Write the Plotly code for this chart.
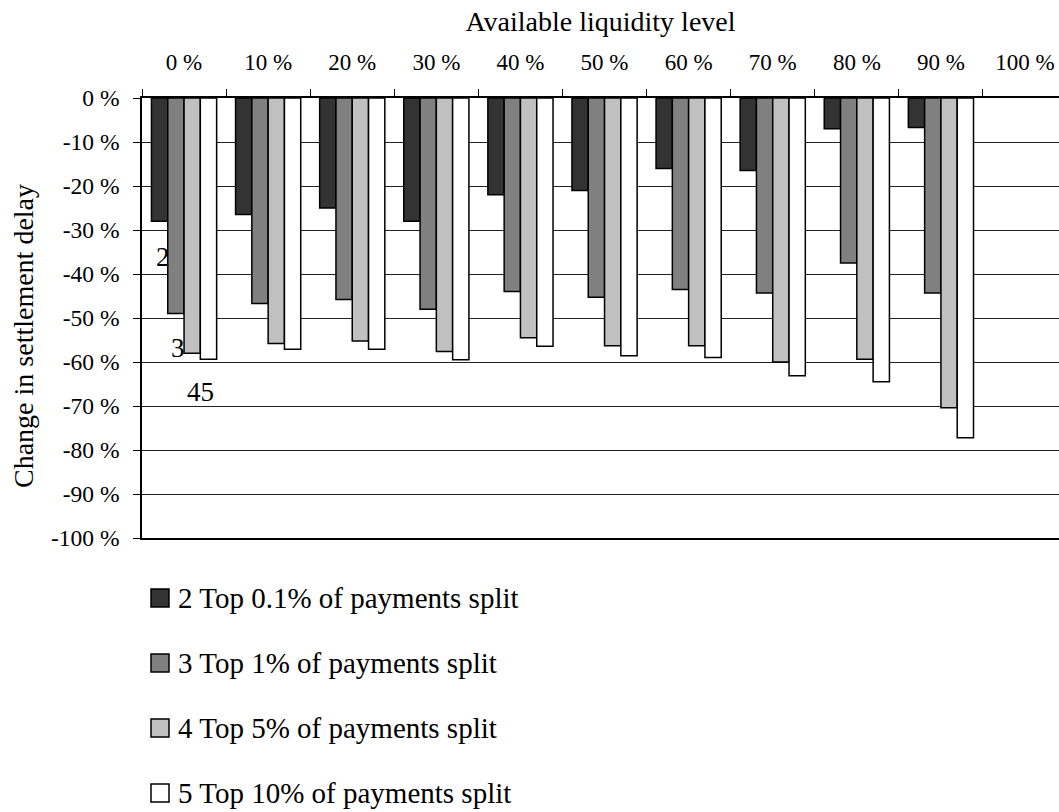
import plotly.graph_objects as go

# ---- data ----
categories = ["0 %", "10 %", "20 %", "30 %", "40 %", "50 %", "60 %", "70 %", "80 %", "90 %", "100 %"]
data_categories = categories[:10]

series_names = [
    "2 Top 0.1% of payments split",
    "3 Top 1% of payments split",
    "4 Top 5% of payments split",
    "5 Top 10% of payments split",
]
top_0_1 = [-28, -26.5, -25, -28, -22, -21, -16, -16.5, -7, -6.7]
top_1 = [-49, -46.7, -45.8, -48, -44, -45.3, -43.5, -44.3, -37.5, -44.3]
top_5 = [-58, -55.8, -55.2, -57.6, -54.5, -56.3, -56.3, -60, -59.4, -70.4]
top_10 = [-59.4, -57.1, -57.1, -59.5, -56.4, -58.6, -59, -63.1, -64.5, -77.2]
series_values = [top_0_1, top_1, top_5, top_10]
series_colors = ["#333333", "#808080", "#C0C0C0", "#FFFFFF"]

y_ticks = list(range(-100, 1, 10))
y_ticktext = [f"{v} %" for v in y_ticks]

stray_labels = ["2", "3", "45"]
stray_x = [-0.25, -0.07, 0.19]
stray_y = [-36.1, -56.8, -66.8]

FONT = "Liberation Serif"
W, H = 1059, 812
ML, MR, MT, MB = 142, 0, 98, 274
PW, PH = W - ML - MR, H - MT - MB


def px_to_paper_x(px):
    return (px - ML) / PW


def px_to_paper_y(py):
    return (H - MB - py) / PH


fig = go.Figure()
for name, vals, col in zip(series_names, series_values, series_colors):
    fig.add_trace(go.Bar(
        x=data_categories, y=vals, name=name,
        marker=dict(color=col, line=dict(color="black", width=1.5)),
        showlegend=False,
    ))

for t, xx, yy in zip(stray_labels, stray_x, stray_y):
    fig.add_annotation(x=xx, y=yy, xref="x", yref="y", text=t, showarrow=False,
                       font=dict(family=FONT, size=27, color="black"),
                       xanchor="center", yanchor="middle")

# legend (drawn as a vertical key below the plot)
leg_top_center = 598
leg_step = 65
for i, (name, col) in enumerate(zip(series_names, series_colors)):
    cy = leg_top_center + i * leg_step
    fig.add_shape(type="rect", xref="paper", yref="paper",
                  x0=px_to_paper_x(151), x1=px_to_paper_x(169),
                  y0=px_to_paper_y(cy - 9), y1=px_to_paper_y(cy + 9),
                  fillcolor=col, line=dict(color="black", width=1.5))
    fig.add_annotation(x=px_to_paper_x(176), y=px_to_paper_y(cy), xref="paper", yref="paper",
                       text=name, showarrow=False, xanchor="left", yanchor="middle",
                       font=dict(family=FONT, size=29, color="black"))

# y-axis title
fig.add_annotation(x=px_to_paper_x(23), y=px_to_paper_y(336), xref="paper", yref="paper",
                   text="Change in settlement delay", textangle=-90, showarrow=False,
                   xanchor="center", yanchor="middle",
                   font=dict(family=FONT, size=28, color="black"))

fig.update_layout(
    width=W, height=H,
    paper_bgcolor="white", plot_bgcolor="white",
    margin=dict(l=ML, r=MR, t=MT, b=MB, autoexpand=False),
    barmode="group", bargap=0.225, bargroupgap=0,
    font=dict(family=FONT, size=23, color="black"),
    showlegend=False,
    xaxis=dict(
        type="category", categoryorder="array", categoryarray=categories,
        side="top", range=[-0.5, 10.404], tickson="boundaries",
        ticks="outside", ticklen=7, tickcolor="black", tickwidth=1,
        showline=True, linecolor="black", linewidth=1.5, mirror=True,
        showgrid=False, zeroline=False,
        tickfont=dict(family=FONT, size=23, color="black"),
        ticklabelstandoff=17,
        title=dict(text="Available liquidity level", standoff=10,
                   font=dict(family=FONT, size=28, color="black")),
        automargin=False,
    ),
    yaxis=dict(
        range=[-100, 0], tickvals=y_ticks, ticktext=y_ticktext,
        ticks="outside", ticklen=7, tickcolor="black", tickwidth=1,
        showline=True, linecolor="black", linewidth=1.5,
        showgrid=True, gridcolor="#222222", gridwidth=1, zeroline=False,
        tickfont=dict(family=FONT, size=23.5, color="black"),
        ticklabelstandoff=9,
        automargin=False,
    ),
)

fig.write_html(
    "out.html",
    config={"displayModeBar": False},
    post_script="document.body.style.margin='0';document.body.style.padding='0';",
)
